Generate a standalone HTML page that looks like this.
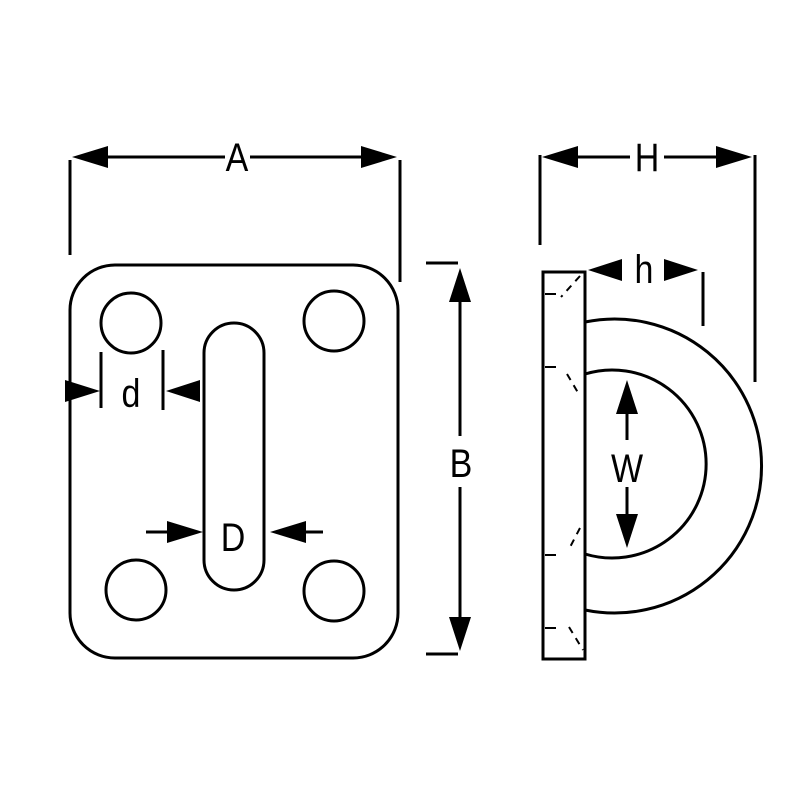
<!DOCTYPE html>
<html><head><meta charset="utf-8"><style>html,body{margin:0;padding:0;background:#fff}</style></head>
<body>
<svg width="800" height="800" viewBox="0 0 800 800" xmlns="http://www.w3.org/2000/svg">
<g fill="none" stroke="#000" stroke-width="3">
<rect x="70" y="265" width="328" height="393" rx="45"/>
<circle cx="131" cy="323" r="30"/>
<circle cx="334" cy="321" r="30"/>
<circle cx="136" cy="590" r="30"/>
<circle cx="334" cy="591" r="30"/>
<rect x="204" y="323" width="60" height="267" rx="30"/>
<line x1="70" y1="160" x2="70" y2="255"/>
<line x1="400" y1="160" x2="400" y2="282"/>
<line x1="100" y1="157" x2="225" y2="157"/>
<line x1="250" y1="157" x2="370" y2="157"/>
<line x1="540" y1="155" x2="540" y2="245"/>
<line x1="755" y1="155" x2="755" y2="382"/>
<line x1="570" y1="157" x2="630" y2="157"/>
<line x1="664" y1="157" x2="725" y2="157"/>
<line x1="426" y1="263" x2="458" y2="263"/>
<line x1="426" y1="654" x2="458" y2="654"/>
<line x1="460" y1="290" x2="460" y2="436"/>
<line x1="460" y1="487" x2="460" y2="625"/>
<line x1="101" y1="352" x2="101" y2="408"/>
<line x1="163" y1="350" x2="163" y2="410"/>
<line x1="146" y1="532" x2="180" y2="532"/>
<line x1="295" y1="532" x2="323" y2="532"/>
<rect x="543" y="272" width="42" height="387"/>
<path d="M585 322 A147 147 0 1 1 585 610"/>
<path d="M585 374 A94 94 0 1 1 585 554"/>
<line x1="703" y1="272" x2="703" y2="326"/>
<line x1="627" y1="400" x2="627" y2="440"/>
<line x1="627" y1="487" x2="627" y2="520"/>
</g>
<g stroke="#000" stroke-width="2" fill="none">
<line x1="545" y1="294" x2="556" y2="294"/>
<line x1="545" y1="367" x2="556" y2="367"/>
<line x1="545" y1="555" x2="556" y2="555"/>
<line x1="545" y1="628" x2="556" y2="628"/>
<g stroke-dasharray="7,6">
<line x1="580" y1="276" x2="561" y2="297"/>
<line x1="567" y1="374" x2="580" y2="396"/>
<line x1="580" y1="528" x2="568" y2="551"/>
<line x1="569" y1="627" x2="583" y2="650"/>
</g>
</g>
<g fill="#000">
<polygon points="72,157 108,146 108,168"/>
<polygon points="397,157 361,146 361,168"/>
<polygon points="542,157 578,146 578,168"/>
<polygon points="752,157 716,146 716,168"/>
<polygon points="460,268 449,302 471,302"/>
<polygon points="460,651 449,617 471,617"/>
<polygon points="100,391 65,380 65,402"/>
<polygon points="166,391 200,380 200,402"/>
<polygon points="203,532 167,521 167,543"/>
<polygon points="270,532 306,521 306,543"/>
<polygon points="588,270 622,259 622,281"/>
<polygon points="698,270 664,259 664,281"/>
<polygon points="627,380 616,414 638,414"/>
<polygon points="627,548 616,514 638,514"/>
</g>
<g font-family="Liberation Sans, sans-serif" font-size="40" text-anchor="middle" fill="#000">
<text x="0" y="171" transform="translate(237,0) scale(0.85,1)">A</text>
<text x="0" y="171" transform="translate(647,0) scale(0.85,1)">H</text>
<text x="0" y="477" transform="translate(461,0) scale(0.85,1)">B</text>
<text x="0" y="407" transform="translate(131,0) scale(0.85,1)">d</text>
<text x="0" y="551" transform="translate(233,0) scale(0.85,1)">D</text>
<text x="0" y="283" transform="translate(644,0) scale(0.85,1)">h</text>
<text x="0" y="482" transform="translate(627,0) scale(0.85,1)">W</text>
</g>
</svg>
</body></html>
